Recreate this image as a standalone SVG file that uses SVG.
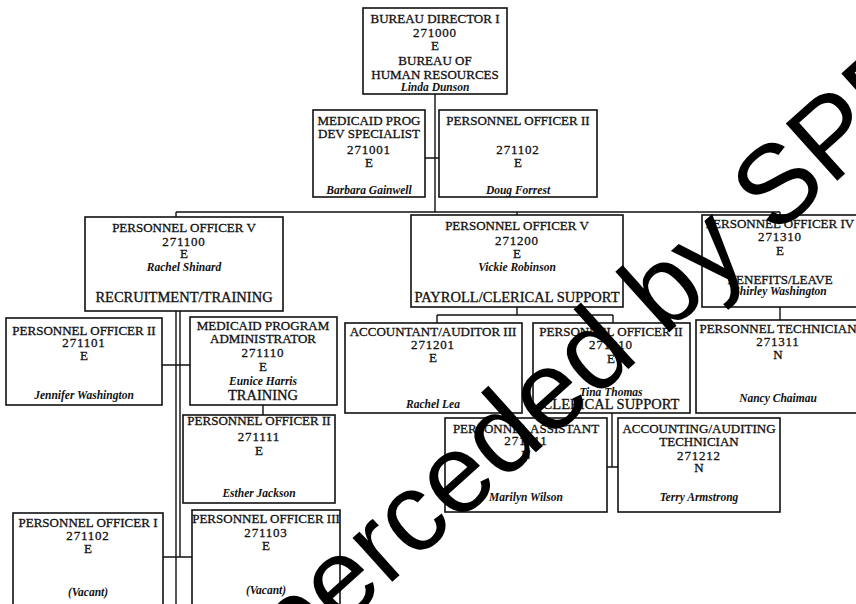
<svg xmlns="http://www.w3.org/2000/svg" width="856" height="604" viewBox="0 0 856 604">
<style>
.box{fill:#fff;stroke:#111;stroke-width:1.6}
.c{stroke:#111;stroke-width:1.4;fill:none}
text{font-family:"Liberation Serif","Times New Roman",serif;text-anchor:middle;fill:#111;stroke:#111;stroke-width:0.3}
.t{font-size:13px}
.d{font-size:13px;letter-spacing:0.8px}
.b{font-size:14.5px}
.n{font-size:11.5px;font-style:italic;font-weight:bold;stroke-width:0}
.wm{font-family:"Liberation Sans",Arial,sans-serif;font-size:112px;text-anchor:start;fill:#000;stroke:none}
</style>
<rect width="856" height="604" fill="#fff"/>
<g id="connectors">
<path class="c" d="M435,94V212M425,158H439M176,212H780M176,212V217M517,212V215M780,212V215"/>
<path class="c" d="M176,311V604M180,311V557M162,365H190M263,405V415M163,557H192"/>
<path class="c" d="M517,307V315M437,315H613M437,315V323M613,315V323M780,307V320M612,413V467M607,467H618"/>
</g>
<g id="n-director">
<rect class="box" x="363" y="8" width="144" height="86"/>
<text class="t" x="435" y="23">BUREAU DIRECTOR I</text>
<text class="d" x="435" y="37">271000</text>
<text class="t" x="435" y="50">E</text>
<text class="t" x="435" y="65">BUREAU OF</text>
<text class="t" x="435" y="79">HUMAN RESOURCES</text>
<text class="n" x="435" y="91">Linda Dunson</text>
</g>
<g id="n-medicaid-dev">
<rect class="box" x="313" y="110" width="112" height="87"/>
<text class="t" x="369" y="125">MEDICAID PROG</text>
<text class="t" x="369" y="138">DEV SPECIALIST</text>
<text class="d" x="369" y="154">271001</text>
<text class="t" x="369" y="167">E</text>
<text class="n" x="369" y="194">Barbara Gainwell</text>
</g>
<g id="n-po2-271102">
<rect class="box" x="439" y="110" width="158" height="87"/>
<text class="t" x="518" y="125">PERSONNEL OFFICER II</text>
<text class="d" x="518" y="154">271102</text>
<text class="t" x="518" y="167">E</text>
<text class="n" x="518" y="194">Doug Forrest</text>
</g>
<g id="n-po5-271100">
<rect class="box" x="85" y="217" width="198" height="94"/>
<text class="t" x="184" y="232">PERSONNEL OFFICER V</text>
<text class="d" x="184" y="246">271100</text>
<text class="t" x="184" y="258">E</text>
<text class="n" x="184" y="271">Rachel Shinard</text>
<text class="b" x="184" y="302">RECRUITMENT/TRAINING</text>
</g>
<g id="n-po5-271200">
<rect class="box" x="411" y="215" width="212" height="92"/>
<text class="t" x="517" y="230">PERSONNEL OFFICER V</text>
<text class="d" x="517" y="245">271200</text>
<text class="t" x="517" y="258">E</text>
<text class="n" x="517" y="271">Vickie Robinson</text>
<text class="b" x="517" y="302">PAYROLL/CLERICAL SUPPORT</text>
</g>
<g id="n-po4-271310">
<rect class="box" x="702" y="215" width="158" height="92"/>
<text class="t" x="780" y="228">PERSONNEL OFFICER IV</text>
<text class="d" x="780" y="241">271310</text>
<text class="t" x="780" y="255">E</text>
<text class="t" x="780" y="284">BENEFITS/LEAVE</text>
<text class="n" x="780" y="295">Shirley Washington</text>
</g>
<g id="n-po2-271101">
<rect class="box" x="6" y="318" width="156" height="87"/>
<text class="t" x="84" y="335">PERSONNEL OFFICER II</text>
<text class="d" x="84" y="347">271101</text>
<text class="t" x="84" y="360">E</text>
<text class="n" x="84" y="399">Jennifer Washington</text>
</g>
<g id="n-medicaid-admin">
<rect class="box" x="190" y="317" width="147" height="88"/>
<text class="t" x="263" y="330">MEDICAID PROGRAM</text>
<text class="t" x="263" y="343">ADMINISTRATOR</text>
<text class="d" x="263" y="357">271110</text>
<text class="t" x="263" y="371">E</text>
<text class="n" x="263" y="385">Eunice Harris</text>
<text class="b" x="263" y="400">TRAINING</text>
</g>
<g id="n-accountant">
<rect class="box" x="345" y="323" width="177" height="90"/>
<text class="t" x="433" y="336">ACCOUNTANT/AUDITOR III</text>
<text class="d" x="433" y="349">271201</text>
<text class="t" x="433" y="362">E</text>
<text class="n" x="433" y="408">Rachel Lea</text>
</g>
<g id="n-po2-271210">
<rect class="box" x="533" y="323" width="157" height="90"/>
<text class="t" x="611" y="336">PERSONNEL OFFICER II</text>
<text class="d" x="611" y="349">271210</text>
<text class="t" x="611" y="363">E</text>
<text class="n" x="611" y="396">Tina Thomas</text>
<text class="b" x="611" y="409">CLERICAL SUPPORT</text>
</g>
<g id="n-technician">
<rect class="box" x="696" y="320" width="164" height="93"/>
<text class="t" x="778" y="333">PERSONNEL TECHNICIAN</text>
<text class="d" x="778" y="346">271311</text>
<text class="t" x="778" y="359">N</text>
<text class="n" x="778" y="402">Nancy Chaimau</text>
</g>
<g id="n-po2-271111">
<rect class="box" x="183" y="415" width="152" height="88"/>
<text class="t" x="259" y="425">PERSONNEL OFFICER II</text>
<text class="d" x="259" y="441">271111</text>
<text class="t" x="259" y="455">E</text>
<text class="n" x="259" y="497">Esther Jackson</text>
</g>
<g id="n-assistant">
<rect class="box" x="445" y="418" width="162" height="94"/>
<text class="t" x="526" y="433">PERSONNEL ASSISTANT</text>
<text class="d" x="526" y="445">271211</text>
<text class="t" x="526" y="459">N</text>
<text class="n" x="526" y="501">Marilyn Wilson</text>
</g>
<g id="n-acct-tech">
<rect class="box" x="618" y="418" width="162" height="94"/>
<text class="t" x="699" y="433">ACCOUNTING/AUDITING</text>
<text class="t" x="699" y="446">TECHNICIAN</text>
<text class="d" x="699" y="460">271212</text>
<text class="t" x="699" y="472">N</text>
<text class="n" x="699" y="501">Terry Armstrong</text>
</g>
<g id="n-po1-271102">
<rect class="box" x="13" y="513" width="150" height="100"/>
<text class="t" x="88" y="527">PERSONNEL OFFICER I</text>
<text class="d" x="88" y="540">271102</text>
<text class="t" x="88" y="553">E</text>
<text class="n" x="88" y="596">(Vacant)</text>
</g>
<g id="n-po3-271103">
<rect class="box" x="192" y="510" width="148" height="100"/>
<text class="t" x="266" y="523">PERSONNEL OFFICER III</text>
<text class="d" x="266" y="537">271103</text>
<text class="t" x="266" y="550">E</text>
<text class="n" x="266" y="594">(Vacant)</text>
</g>
<g id="watermark">
<text class="wm" transform="translate(192,762) rotate(-42)">Superceded by SPB</text>
</g>
</svg>
